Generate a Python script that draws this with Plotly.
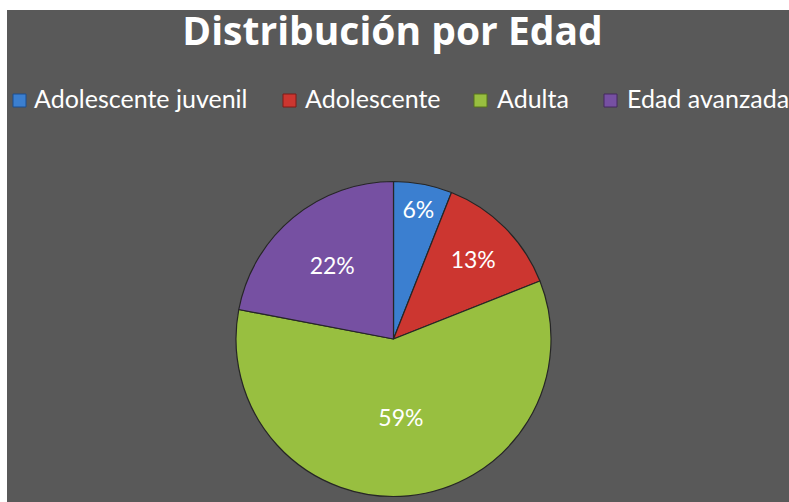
import plotly.graph_objects as go

labels = ["Adolescente juvenil", "Adolescente", "Adulta", "Edad avanzada"]
values = [6, 13, 59, 22]
colors = ["#3b7fd0", "#cc3630", "#98bf40", "#7650a2"]
edge_colors = ["#1d4f8f", "#7e1b17", "#56731c", "#44295f"]

W, H = 789, 502
FONT = "Lato"

# pie placement in figure pixels (from top-left)
PIE_L, PIE_R, PIE_T, PIE_B = 236, 551, 181.5, 496.5

fig = go.Figure()
fig.add_trace(go.Pie(
    labels=labels, values=values, sort=False, direction="clockwise", rotation=0,
    marker=dict(colors=colors, line=dict(color="#262626", width=1.2)),
    texttemplate="%{percent:.0%}",
    textposition="inside", insidetextorientation="horizontal",
    textfont=dict(family=FONT, size=23, color="white"),
    domain=dict(x=[PIE_L / W, PIE_R / W], y=[1 - PIE_B / H, 1 - PIE_T / H]),
    hoverinfo="label+percent",
    showlegend=False,
))

# legend drawn as square swatches + text (layout positions)
sq_x = [13, 283, 474, 604]
txt_x = [32, 303, 495, 625]
shapes = [
    dict(type="rect", xref="paper", yref="paper", x0=0, x1=1, y0=1 - 10 / H, y1=1,
         fillcolor="white", line=dict(width=0), layer="below"),
    dict(type="rect", xref="paper", yref="paper", x0=0, x1=7 / W, y0=0, y1=1,
         fillcolor="white", line=dict(width=0), layer="below"),
]
annotations = []
for i, lab in enumerate(labels):
    shapes.append(dict(type="rect", xref="paper", yref="paper",
                       x0=sq_x[i] / W, x1=(sq_x[i] + 13) / W,
                       y0=1 - 107 / H, y1=1 - 94 / H,
                       fillcolor=colors[i], line=dict(color=edge_colors[i], width=1)))
    annotations.append(dict(text=lab, xref="paper", yref="paper",
                            x=txt_x[i] / W, xanchor="left",
                            y=1 - 98 / H, yanchor="middle", showarrow=False,
                            font=dict(family=FONT, size=25, color="white")))

fig.update_layout(
    width=W, height=H,
    margin=dict(l=0, r=0, t=0, b=0),
    paper_bgcolor="#595959",
    title=dict(text="<b>Distribución por Edad</b>", x=392.5 / W, xanchor="center",
               y=1 - 31 / H, yanchor="middle",
               font=dict(family="Open Sans", size=39, color="white")),
    shapes=shapes,
    annotations=annotations,
)
fig.write_html(
    "out.html",
    config={"displayModeBar": False},
    post_script="document.body.style.margin='0';document.body.style.overflow='hidden';",
)
